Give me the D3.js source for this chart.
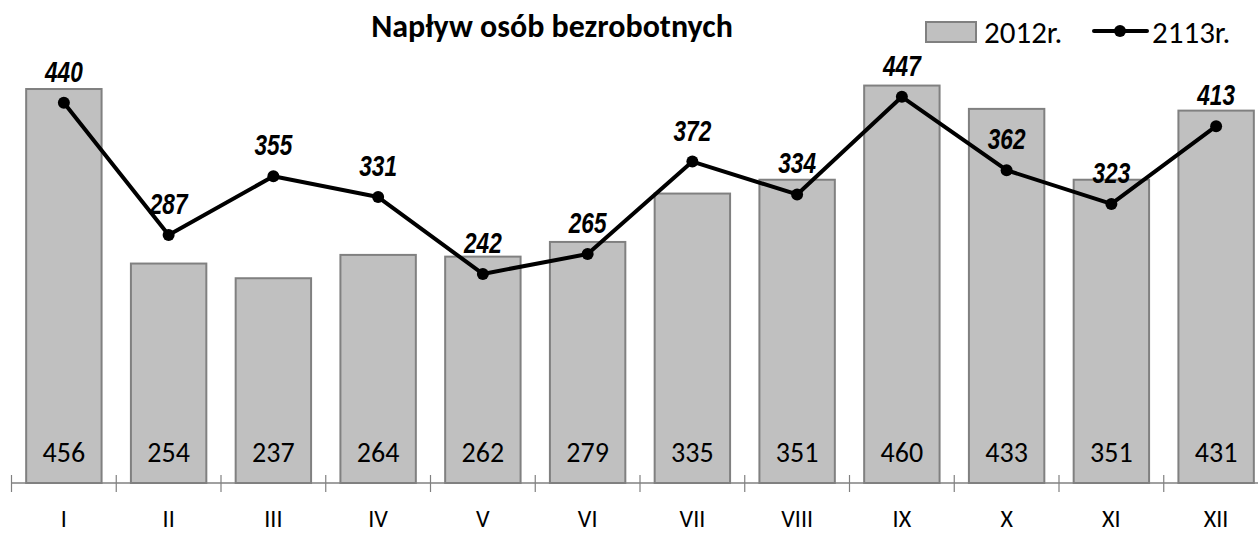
<!DOCTYPE html>
<html>
<head>
<meta charset="utf-8">
<script src="https://cdn.jsdelivr.net/npm/d3@7"></script>
<style>
  body { margin: 0; background: #fff; overflow: hidden; }
  svg { display: block; }
</style>
</head>
<body>
<div id="chart-area"></div>
<script>
// SVG Size
var width = 1258,
	height = 533;

// data
var months = ["I", "II", "III", "IV", "V", "VI", "VII", "VIII", "IX", "X", "XI", "XII"];
var values2012 = [456, 254, 237, 264, 262, 279, 335, 351, 460, 433, 351, 431];
var values2113 = [440, 287, 355, 331, 242, 265, 372, 334, 447, 362, 323, 413];
var seriesNames = ["2012r.", "2113r."];

var data = months.map(function(m, i) {
	return { month: m, bar: values2012[i], line: values2113[i] };
});

var svg = d3.select("#chart-area")
	.append("svg")
	.attr("width", width)
	.attr("height", height);

var plotLeft = 11.5,
	plotRight = plotLeft + 12 * 104.75,
	baseY = 483,
	topY = 51;

var x = d3.scaleBand()
	.domain(months)
	.range([plotLeft, plotRight])
	.paddingInner(0.28)
	.paddingOuter(0.14);

var xTicks = d3.scaleLinear().domain([0, 12]).range([plotLeft, plotRight]);

var y = d3.scaleLinear()
	.domain([0, 500])
	.range([baseY, topY]);

var calibri = "Carlito, Calibri, Lato, 'Open Sans', sans-serif";
var narrow = "'Liberation Sans', Arial, sans-serif";

// bars
svg.selectAll("rect.bar")
	.data(data)
	.enter()
	.append("rect")
	.attr("class", "bar")
	.attr("x", function(d) { return x(d.month); })
	.attr("y", function(d) { return y(d.bar); })
	.attr("width", x.bandwidth())
	.attr("height", function(d) { return baseY - y(d.bar); })
	.attr("fill", "#c0c0c0")
	.attr("stroke", "#808080")
	.attr("stroke-width", 2);

// bar labels at the bottom
svg.selectAll("text.barlabel")
	.data(data)
	.enter()
	.append("text")
	.attr("class", "barlabel")
	.attr("x", function(d) { return x(d.month) + x.bandwidth() / 2; })
	.attr("y", 462)
	.attr("text-anchor", "middle")
	.style("font-family", calibri)
	.style("font-size", "28px")
	.attr("fill", "#000")
	.text(function(d) { return d.bar; });

// axis
svg.append("line")
	.attr("x1", plotLeft).attr("x2", width)
	.attr("y1", baseY).attr("y2", baseY)
	.attr("stroke", "#808080")
	.attr("stroke-width", 1.5);

svg.selectAll("line.tick")
	.data(d3.range(0, 13))
	.enter()
	.append("line")
	.attr("class", "tick")
	.attr("x1", function(d) { return xTicks(d); })
	.attr("x2", function(d) { return xTicks(d); })
	.attr("y1", baseY - 8)
	.attr("y2", baseY + 9)
	.attr("stroke", "#808080")
	.attr("stroke-width", 1.2);

svg.selectAll("text.month")
	.data(months)
	.enter()
	.append("text")
	.attr("class", "month")
	.attr("x", function(d) { return x(d) + x.bandwidth() / 2; })
	.attr("y", 527)
	.attr("text-anchor", "middle")
	.style("font-family", calibri)
	.style("font-size", "24px")
	.text(function(d) { return d; });

// line series
var line = d3.line()
	.x(function(d) { return x(d.month) + x.bandwidth() / 2; })
	.y(function(d) { return y(d.line); });

svg.append("path")
	.datum(data)
	.attr("d", line)
	.attr("fill", "none")
	.attr("stroke", "#000")
	.attr("stroke-width", 4)
	.attr("stroke-linejoin", "round");

svg.selectAll("circle.pt")
	.data(data)
	.enter()
	.append("circle")
	.attr("class", "pt")
	.attr("cx", function(d) { return x(d.month) + x.bandwidth() / 2; })
	.attr("cy", function(d) { return y(d.line); })
	.attr("r", 6)
	.attr("fill", "#000");

// narrow bold italic labels: squeeze Liberation Sans horizontally
svg.selectAll("text.linelabel")
	.data(data)
	.enter()
	.append("text")
	.attr("class", "linelabel")
	.attr("transform", function(d) {
		return "translate(" + (x(d.month) + x.bandwidth() / 2) + "," + (y(d.line) - 21) + ") scale(0.78,1)";
	})
	.attr("text-anchor", "middle")
	.style("font-family", narrow)
	.style("font-size", "29px")
	.style("font-weight", "bold")
	.style("font-style", "italic")
	.text(function(d) { return d.line; });

// title
svg.append("text")
	.attr("x", 552)
	.attr("y", 37)
	.attr("text-anchor", "middle")
	.style("font-family", calibri)
	.style("font-size", "32px")
	.style("font-weight", "bold")
	.text("Napływ osób bezrobotnych");

// legend
var legend = svg.append("g");
legend.append("rect")
	.attr("x", 926).attr("y", 22)
	.attr("width", 50).attr("height", 20)
	.attr("fill", "#c0c0c0")
	.attr("stroke", "#808080")
	.attr("stroke-width", 2);
legend.append("text")
	.attr("x", 984).attr("y", 43)
	.style("font-family", calibri)
	.style("font-size", "31px")
	.text(seriesNames[0]);
legend.append("line")
	.attr("x1", 1094).attr("x2", 1147)
	.attr("y1", 31).attr("y2", 31)
	.attr("stroke", "#000")
	.attr("stroke-width", 4)
	.attr("stroke-linecap", "round");
legend.append("circle")
	.attr("cx", 1120).attr("cy", 31).attr("r", 6)
	.attr("fill", "#000");
legend.append("text")
	.attr("x", 1152).attr("y", 43)
	.style("font-family", calibri)
	.style("font-size", "31px")
	.text(seriesNames[1]);
</script>
</body>
</html>
